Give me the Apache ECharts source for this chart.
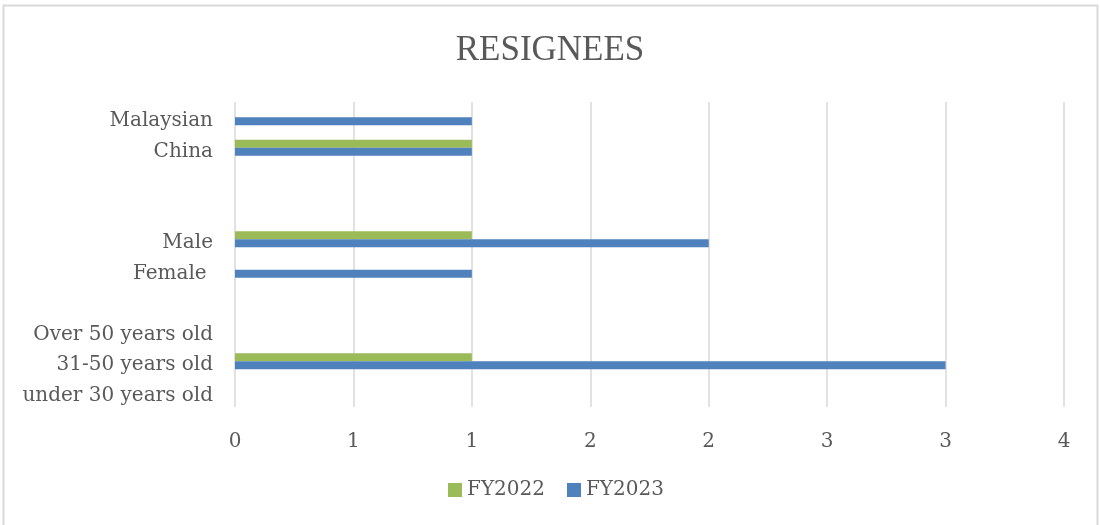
<!DOCTYPE html>
<html>
<head>
<meta charset="utf-8">
<script src="https://cdn.jsdelivr.net/npm/echarts@6/dist/echarts.min.js"></script>
<style>
  html, body { margin: 0; padding: 0; background: #fff; }
  #chart { width: 1100px; height: 525px; }
</style>
</head>
<body>
<div id="chart"></div>
<script>
// categories top to bottom, blank rows are spacers like in the source sheet
const categories = ['Malaysian', 'China', '', ' ', 'Male', 'Female ', '  ', 'Over 50 years old', '31-50 years old', 'under 30 years old'];
const fy2022 = [0, 1, null, null, 1, 0, null, 0, 1, 0];
const fy2023 = [1, 1, null, null, 2, 1, null, 0, 3, 0];
const seriesNames = ['FY2022', 'FY2023'];

const textColor = '#595959';
const serif = '"DejaVu Serif", serif';

const chart = echarts.init(document.getElementById('chart'));

const option = {
    backgroundColor: '#fff',
    animation: false,
    title: {
        text: 'RESIGNEES',
        left: 'center',
        top: 28,
        textStyle: {
            color: textColor,
            fontSize: 35,
            fontWeight: 'normal',
            fontFamily: '"Liberation Serif", serif'
        }
    },
    legend: {
        data: seriesNames,
        bottom: 20,
        left: 443,
        icon: 'rect',
        itemWidth: 14,
        itemHeight: 14,
        itemGap: 22,
        textStyle: { color: textColor, fontSize: 20, fontFamily: serif }
    },
    grid: { left: 235, right: 36, top: 102, bottom: 118 },
    xAxis: {
        type: 'value',
        min: 0,
        max: 3.5,
        interval: 0.5,
        axisLine: { show: false },
        axisTick: { show: false },
        splitLine: { lineStyle: { color: '#d9d9d9', width: 1.5 } },
        axisLabel: {
            color: textColor,
            fontSize: 20,
            fontFamily: serif,
            margin: 25,
            formatter: (v) => Math.round(v).toString() // excel shows halves rounded
        }
    },
    yAxis: {
        type: 'category',
        data: categories,
        inverse: true,
        axisLine: { show: false },
        axisTick: { show: false },
        splitLine: { show: false },
        axisLabel: {
            color: textColor,
            fontSize: 20,
            fontFamily: serif,
            margin: 22,
            lineHeight: 28,
            verticalAlign: 'top',
            padding: [-10, 0, 0, 0]
        }
    },
    series: [
        {
            name: seriesNames[0],
            type: 'bar',
            data: fy2022,
            barWidth: 8,
            barGap: '0%',
            itemStyle: { color: '#9BBB59' }
        },
        {
            name: seriesNames[1],
            type: 'bar',
            data: fy2023,
            barWidth: 8,
            barGap: '0%',
            itemStyle: { color: '#4F81BD' }
        }
    ],
    graphic: [
        {
            type: 'rect',
            shape: { x: 3.5, y: 5.5, width: 1094, height: 540 },
            style: { fill: 'none', stroke: '#d9d9d9', lineWidth: 2 },
            silent: true
        }
    ]
};

chart.setOption(option);
</script>
</body>
</html>
